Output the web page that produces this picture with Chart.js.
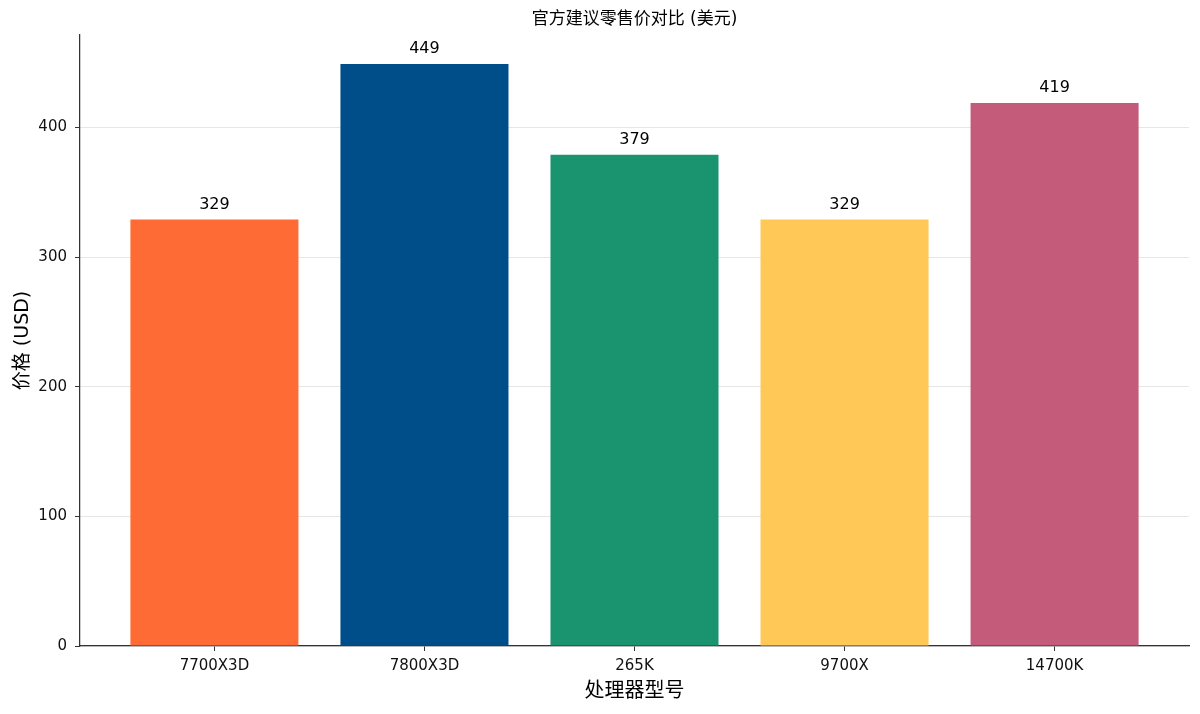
<!DOCTYPE html>
<html>
<head>
<meta charset="utf-8">
<script src="https://cdn.jsdelivr.net/npm/chart.js@4.4.1/dist/chart.umd.min.js"></script>
<style>
  html, body { margin: 0; padding: 0; background: #fff; }
  #wrap { width: 1200px; height: 714px; }
</style>
</head>
<body>
<div id="wrap"><canvas id="priceChart"></canvas></div>
<script>
// chart data
const models = ['7700X3D', '7800X3D', '265K', '9700X', '14700K'];
const prices = [329, 449, 379, 329, 419];
const barColors = ['#FF6B35', '#004E89', '#1A936F', '#FFC857', '#C45B7B'];
const yTicks = [0, 100, 200, 300, 400];

const FONT = "'DejaVu Sans', 'Noto Sans CJK SC', sans-serif";

// title + value labels on top of bars
const labelPlugin = {
    id: 'labels',
    afterDatasetsDraw(chart) {
        const ctx = chart.ctx;
        const meta = chart.getDatasetMeta(0);
        ctx.save();
        ctx.fillStyle = '#000';
        ctx.font = '16px ' + FONT;
        ctx.textAlign = 'center';
        ctx.textBaseline = 'bottom';
        meta.data.forEach((bar, i) => {
            ctx.fillText(String(prices[i]), bar.x, bar.y - 7);
        });
        ctx.restore();
    },
    afterDraw(chart) {
        const ctx = chart.ctx;
        const area = chart.chartArea;
        ctx.save();
        ctx.fillStyle = '#000';
        ctx.font = '17px ' + FONT;
        ctx.textAlign = 'center';
        ctx.textBaseline = 'middle';
        ctx.fillText('官方建议零售价对比 (美元)', (area.left + area.right) / 2, 20);
        ctx.restore();
    }
};

const ctx = document.getElementById('priceChart').getContext('2d');

new Chart(ctx, {
    type: 'bar',
    data: {
        datasets: [{
            data: prices.map((v, i) => ({ x: i, y: v })),
            backgroundColor: barColors,
            borderWidth: 0,
            barPercentage: 0.8,
            categoryPercentage: 1.0
        }]
    },
    options: {
        responsive: true,
        maintainAspectRatio: false,
        animation: false,
        layout: { padding: { top: 35, right: 11, left: 0, bottom: 0 } },
        plugins: {
            legend: { display: false },
            title: { display: false },
            tooltip: { enabled: false }
        },
        scales: {
            x: {
                type: 'linear',
                min: -0.64,
                max: 4.64,
                offset: false,
                afterBuildTicks: s => { s.ticks = models.map((_, i) => ({ value: i })); },
                afterFit: s => { s.height = 68; },
                grid: { offset: false, drawOnChartArea: false, drawTicks: true, tickLength: 5, tickColor: '#333' },
                border: { color: '#333', width: 1.25 },
                ticks: {
                    color: '#111',
                    font: { family: FONT, size: 15 },
                    padding: 6,
                    maxRotation: 0,
                    callback: v => models[v]
                },
                title: {
                    display: true,
                    text: '处理器型号',
                    color: '#000',
                    font: { family: FONT, size: 20 },
                    padding: { top: 0, bottom: 10 }
                }
            },
            y: {
                min: 0,
                max: 471.45,
                z: 1,
                afterBuildTicks: s => { s.ticks = yTicks.map(v => ({ value: v })); },
                afterFit: s => { s.width = 80; },
                grid: { color: 'rgba(200,200,200,0.45)', lineWidth: 1, tickLength: 5, tickColor: '#333' },
                border: { color: '#333', width: 1.25 },
                ticks: {
                    color: '#111',
                    font: { family: FONT, size: 15 },
                    padding: 8,
                    includeBounds: false
                },
                title: {
                    display: true,
                    text: '价格 (USD)',
                    color: '#000',
                    font: { family: FONT, size: 19 },
                    padding: { top: 12, bottom: 0 }
                }
            }
        }
    },
    plugins: [labelPlugin]
});
</script>
</body>
</html>
